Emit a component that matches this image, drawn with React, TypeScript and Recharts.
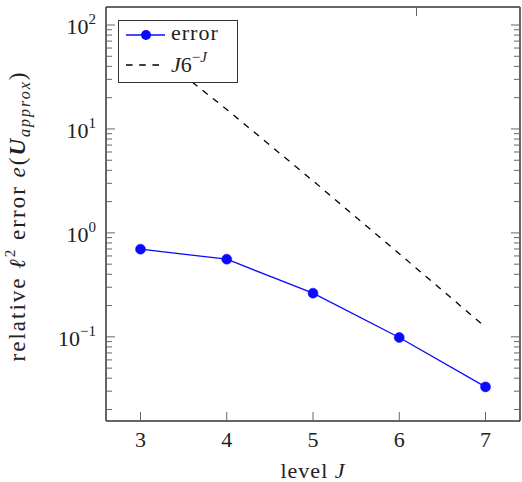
import { LineChart, Line, XAxis, YAxis, Legend } from 'recharts';

// refinement levels and measured errors
const levels = [3, 4, 5, 6, 7];
const errorValues = [0.697, 0.558, 0.263, 0.0985, 0.033];
// reference rate J·6^-J (scaled)
const rateValues = [70, 15.4, 3.17, 0.63, 0.124];

const xTicks = [3, 4, 5, 6, 7];
const yMajorTicks = [0.1, 1, 10, 100];
const yExponents = ['−1', '0', '1', '2'];
const yMinorTicks = [
  0.02, 0.03, 0.04, 0.05, 0.06, 0.07, 0.08, 0.09,
  0.2, 0.3, 0.4, 0.5, 0.6, 0.7, 0.8, 0.9,
  2, 3, 4, 5, 6, 7, 8, 9,
  20, 30, 40, 50, 60, 70, 80, 90,
];

const data = levels.map((J, i) => ({ J, error: errorValues[i], rate: rateValues[i] }));

const FONT = '"Liberation Serif", "Times New Roman", serif';
const TICK = '#666';
const FRAME = '#333';
const BLUE = '#0a0aff';

function LeftTick(props: any) {
  const { x, y, payload } = props;
  const i = yMajorTicks.indexOf(payload.value);
  const major = i >= 0;
  return (
    <g>
      <line x1={x} x2={x + (major ? 9 : 6)} y1={y} y2={y} stroke={TICK} strokeWidth={1} />
      {major && (
        <text x={x - 10} y={y + 9} textAnchor="end" fontFamily={FONT} fontSize={22} fill="#222">
          10<tspan dy={-10} fontSize={15}>{yExponents[i]}</tspan>
        </text>
      )}
    </g>
  );
}

function RightTick(props: any) {
  const { x, y, payload } = props;
  const major = yMajorTicks.indexOf(payload.value) >= 0;
  return <line x1={x - (major ? 9 : 6)} x2={x} y1={y} y2={y} stroke={TICK} strokeWidth={1} />;
}

function BottomTick(props: any) {
  const { x, y, payload } = props;
  return (
    <g>
      <line x1={x} x2={x} y1={y} y2={y - 9} stroke={TICK} strokeWidth={1} />
      <text x={x} y={y + 26} textAnchor="middle" fontFamily={FONT} fontSize={22} fill="#222">
        {payload.value}
      </text>
    </g>
  );
}

function TopTick(props: any) {
  const { x, y } = props;
  return <line x1={x} x2={x} y1={y} y2={y + 9} stroke={TICK} strokeWidth={1} />;
}

function LegendBox() {
  return (
    <div
      style={{
        width: 120,
        height: 63,
        boxSizing: 'border-box',
        border: `1.3px solid ${FRAME}`,
        background: '#fff',
      }}
    >
      <svg width={118} height={61} style={{ display: 'block' }}>
        <line x1={7} x2={46} y1={14} y2={14} stroke={BLUE} strokeWidth={1.3} />
        <circle cx={27} cy={14} r={5} fill={BLUE} />
        <text x={52} y={19} fontFamily={FONT} fontSize={22} fill="#222" letterSpacing={1}>
          error
        </text>
        <line x1={7} x2={46} y1={44} y2={44} stroke="#000" strokeWidth={1.3} strokeDasharray="6.6 6.6" />
        <text x={52} y={51} fontFamily={FONT} fontSize={22} fill="#222">
          <tspan fontStyle="italic">J</tspan>6
          <tspan dy={-10} fontSize={15}>−</tspan>
          <tspan fontSize={15} fontStyle="italic">J</tspan>
        </text>
      </svg>
    </div>
  );
}

export default function App() {
  return (
    <div style={{ position: 'absolute', left: 0, top: 0, width: 522, height: 482, background: '#fff' }}>
      <LineChart width={522} height={482} data={data} margin={{ top: 6, right: 1, bottom: 31, left: 46 }}>
        <XAxis
          dataKey="J"
          type="number"
          domain={[2.6, 7.4]}
          ticks={xTicks}
          interval={0}
          allowDataOverflow
          height={30}
          tickSize={0}
          tickMargin={0}
          tick={BottomTick}
          axisLine={{ stroke: FRAME, strokeWidth: 1.5 }}
          tickLine={false}
        />
        <XAxis
          xAxisId="top"
          orientation="top"
          type="number"
          domain={[2.6, 7.4]}
          ticks={xTicks}
          interval={0}
          allowDataOverflow
          height={1}
          tickSize={0}
          tickMargin={0}
          tick={TopTick}
          axisLine={{ stroke: FRAME, strokeWidth: 1.5 }}
          tickLine={false}
        />
        <YAxis
          type="number"
          scale="log"
          domain={[0.0155, 149]}
          allowDataOverflow
          ticks={[...yMajorTicks, ...yMinorTicks]}
          interval={0}
          width={60}
          tickSize={0}
          tickMargin={0}
          tick={LeftTick}
          axisLine={{ stroke: FRAME, strokeWidth: 1.5 }}
          tickLine={false}
        />
        <YAxis
          yAxisId="right"
          orientation="right"
          type="number"
          scale="log"
          domain={[0.0155, 149]}
          allowDataOverflow
          ticks={[...yMajorTicks, ...yMinorTicks]}
          interval={0}
          width={1}
          tickSize={0}
          tickMargin={0}
          tick={RightTick}
          axisLine={{ stroke: FRAME, strokeWidth: 1.5 }}
          tickLine={false}
        />
        <Line
          dataKey="error"
          stroke={BLUE}
          strokeWidth={1.3}
          dot={{ r: 5, fill: BLUE, stroke: BLUE, strokeWidth: 0.5 }}
          isAnimationActive={false}
        />
        <Line
          dataKey="rate"
          stroke="#000"
          strokeWidth={1.3}
          strokeDasharray="6.6 6.6"
          dot={false}
          isAnimationActive={false}
        />
        <Legend
          layout="horizontal"
          verticalAlign="middle"
          align="center"
          content={() => <LegendBox />}
          wrapperStyle={{ position: 'absolute', left: 118, top: 20, width: 120, height: 63 }}
        />
        <text x={313} y={478} textAnchor="middle" fontFamily={FONT} fontSize={22} fill="#222" letterSpacing={1}>
          level <tspan fontStyle="italic">J</tspan>
        </text>
        <text
          x={25}
          y={216}
          transform="rotate(-90, 25, 216)"
          textAnchor="middle"
          fontFamily={FONT}
          fontSize={23}
          fill="#222"
          letterSpacing={2}
        >
          relative <tspan fontStyle="italic">ℓ</tspan>
          <tspan dy={-10} fontSize={15}>2</tspan>
          <tspan dy={10}> error </tspan>
          <tspan fontStyle="italic">e</tspan>(
          <tspan fontStyle="italic" fontWeight="bold">U</tspan>
          <tspan dy={5} fontSize={16} fontStyle="italic">approx</tspan>
          <tspan dy={-5}>)</tspan>
        </text>
      </LineChart>
    </div>
  );
}
